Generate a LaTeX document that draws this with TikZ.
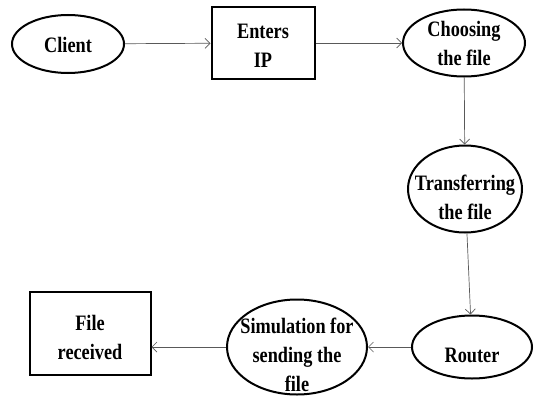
\documentclass[tikz,border=0pt]{standalone}
\usepackage{fontspec}
\setmainfont{Liberation Serif}[FakeStretch=0.83]
\usetikzlibrary{positioning,shapes.geometric,arrows.meta}

\begin{document}
\begin{tikzpicture}[
        x=1pt, y=-1pt,
        oval/.style={ellipse, draw, line width=2pt, inner sep=0pt},
        box/.style={rectangle, draw, line width=2pt, inner sep=0pt},
        txt/.style={align=center, font=\bfseries\fontsize{22}{29}\selectfont},
        flow/.style={draw, gray!70!black, line width=0.7pt, -{Straight Barb[length=5pt,width=10pt]}}
    ]
        \useasboundingbox (0,0) rectangle (535,396);

        % Shapes
        \node[oval, minimum width=112pt, minimum height=58pt] (client) at (68,44) {};
        \node[box, minimum width=103pt, minimum height=71pt] (enters) at (263,43) {};
        \node[oval, minimum width=122pt, minimum height=67pt] (choose) at (464,43) {};
        \node[oval, minimum width=114pt, minimum height=87pt] (transfer) at (465,189) {};
        \node[oval, minimum width=120pt, minimum height=63pt] (router) at (472,347) {};
        \node[oval, minimum width=140pt, minimum height=95pt] (sim) at (297,347) {};
        \node[box, minimum width=121pt, minimum height=83pt] (recv) at (90,333) {};

        % Texts
        \node[txt] (client-t) at (68,45) {Client};
        \node[txt] (enters-t) at (263,46) {Enters\\IP};
        \node[txt] (choose-t) at (464,43) {Choosing\\the file};
        \node[txt] (transfer-t) at (465,197) {Transferring\\the file};
        \node[txt] (router-t) at (472,355) {Router};
        \node[txt] (sim-t) at (297,355) {Simulation for\\sending the\\file};
        \node[txt] (recv-t) at (90,337) {File\\received};

        % Edges
        \draw[flow] (client) -- (enters);
        \draw[flow] (enters) -- (choose);
        \draw[flow] (choose) -- (transfer);
        \draw[flow] (transfer) -- (router);
        \draw[flow] (router) -- (sim);
        \draw[flow] (sim.west) -- (sim.west -| recv.east);
    \end{tikzpicture}
\end{document}
